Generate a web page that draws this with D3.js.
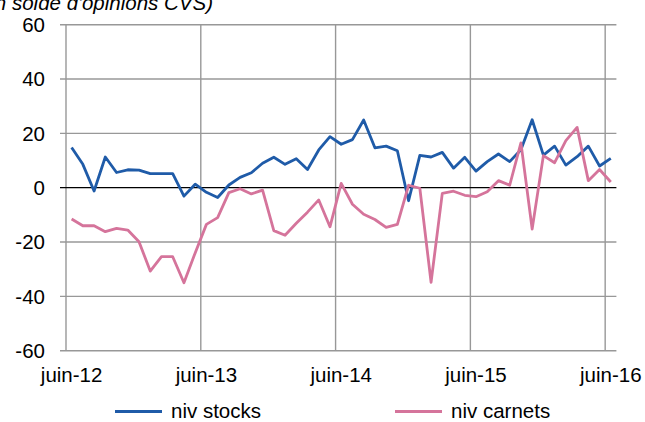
<!DOCTYPE html>
<html><head><meta charset="utf-8">
<script src="https://cdn.jsdelivr.net/npm/d3@7"></script>
<style>
html,body{margin:0;padding:0;background:#fff;}
svg{display:block;font-family:"Liberation Sans",Arial,sans-serif;}
</style></head>
<body>
<svg id="chart" width="645" height="422"></svg>
<script>
const monthNames = ["juin","juil.","août","sept.","oct.","nov.","déc.","janv.","févr.","mars","avr.","mai"];
const categories = [];
for (let k = 0; k < 49; k++) {
  const m = k % 12;
  const yr = 12 + Math.floor((k + 5) / 12);
  categories.push(monthNames[m] + "-" + yr);
}
const stocks = [14.8, 8.6, -1.2, 11.3, 5.6, 6.6, 6.5, 5.2, 5.2, 5.2, -3.1, 1.3, -1.7, -3.6, 1.0, 3.8, 5.5, 9.0, 11.2, 8.6,
  10.7, 6.7, 13.9, 18.8, 16.0, 17.7, 24.9, 14.7, 15.3, 13.6, -4.8, 11.9, 11.3, 13.0, 7.2, 11.2, 6.1, 9.6, 12.4, 9.6,
  14.0, 25.0, 12.0, 15.3, 8.3, 11.4, 15.3, 8.0, 10.8];
const carnets = [-11.5, -14, -14, -16.2, -15, -15.6, -19.9, -30.7, -25.4, -25.4, -35, -24, -13.5, -11, -1.8, -0.4, -2.3, -0.9, -15.8, -17.5,
  -13.1, -9, -4.5, -14.4, 1.6, -6.1, -9.8, -11.7, -14.6, -13.5, 0.9, -0.2, -34.8, -2.1, -1.3, -2.8, -3.3, -1.5, 2.6, 0.9,
  16.5, -15.2, 11.8, 9.2, 17.3, 22.2, 2.6, 6.7, 2.1];
const yTicks = [-60, -40, -20, 0, 20, 40, 60];
const xLabels = ["juin-12", "juin-13", "juin-14", "juin-15", "juin-16"];
const seriesNames = ["niv stocks", "niv carnets"];
const titleText = "(en solde d'opinions CVS)";

const svg = d3.select("#chart");
const plotLeft = 66, plotRight = 616.4, plotTop = 24.7, plotBottom = 350.7;
const x = d3.scaleBand().domain(categories).range([plotLeft, plotRight]).paddingInner(0).paddingOuter(0);
const y = d3.scaleLinear().domain([-60, 60]).range([plotBottom, plotTop]);
const cx = d => x(d) + x.bandwidth() / 2;
const gridColor = "#989898";

// horizontal gridlines + ticks
svg.append("g").selectAll("line").data(yTicks.filter(t => t !== 0)).join("line")
  .attr("x1", plotLeft - 6).attr("x2", plotRight)
  .attr("y1", d => y(d)).attr("y2", d => y(d))
  .attr("stroke", gridColor).attr("stroke-width", 1.4);
// vertical gridlines
svg.append("g").selectAll("line").data(xLabels).join("line")
  .attr("x1", d => x(d)).attr("x2", d => x(d))
  .attr("y1", plotTop).attr("y2", plotBottom)
  .attr("stroke", gridColor).attr("stroke-width", 1.4);
// zero line
svg.append("line").attr("x1", plotLeft - 6).attr("x2", plotRight).attr("y1", y(0)).attr("y2", y(0))
  .attr("stroke", "#000").attr("stroke-width", 1.2);

// y labels
svg.append("g").selectAll("text").data(yTicks).join("text")
  .attr("x", 45).attr("y", d => y(d) + 7.3)
  .attr("text-anchor", "end").attr("font-size", 20.5).attr("fill", "#000")
  .text(d => d);
// x labels
svg.append("g").selectAll("text").data(xLabels).join("text")
  .attr("x", d => cx(d)).attr("y", 382)
  .attr("text-anchor", "middle").attr("font-size", 20.5).attr("fill", "#000")
  .text(d => d);

// title
svg.append("text").attr("x", 213).attr("y", 9.5).attr("text-anchor", "end")
  .attr("font-size", 20.5).attr("font-style", "italic").attr("fill", "#000").text(titleText);

const colors = ["#1F5BA8", "#D5749B"];
const line = d3.line().x((d, i) => cx(categories[i])).y(d => y(d));
[stocks, carnets].forEach((s, k) => {
  svg.append("path").datum(s).attr("d", line).attr("fill", "none")
    .attr("stroke", colors[k]).attr("stroke-width", 2.8).attr("stroke-linejoin", "round");
});

// legend
const legendX = [115, 395];
seriesNames.forEach((n, k) => {
  svg.append("line").attr("x1", legendX[k]).attr("x2", legendX[k] + 47)
    .attr("y1", 411.5).attr("y2", 411.5).attr("stroke", colors[k]).attr("stroke-width", 2.8);
  svg.append("text").attr("x", legendX[k] + 56).attr("y", 417.5).attr("font-size", 20.5)
    .attr("fill", "#000").text(n);
});
</script>
</body></html>
